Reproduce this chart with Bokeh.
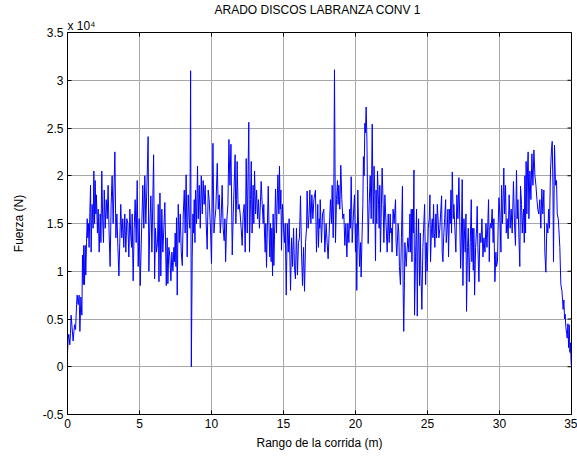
import math
from bokeh.plotting import figure
from bokeh.models import Range1d, FixedTicker, Title
from bokeh.embed import file_html
from bokeh.resources import INLINE

title = "ARADO DISCOS LABRANZA  CONV 1"
scale_note = "x 10\u2074"
x_label = "Rango de la corrida (m)"
y_label = "Fuerza (N)"
x_ticks = [0, 5, 10, 15, 20, 25, 30, 35]
y_ticks = [-0.5, 0, 0.5, 1, 1.5, 2, 2.5, 3, 3.5]
y_tick_labels = ["-0.5", "0", "0.5", "1", "1.5", "2", "2.5", "3", "3.5"]

# distance along the run (m)
rango = [
    0.0, 0.05, 0.09, 0.16, 0.21, 0.25, 0.32, 0.39, 0.49, 0.56, 0.63, 0.67, 0.74, 0.81, 0.86, 0.93,
    1.0, 1.04, 1.09, 1.13, 1.18, 1.23, 1.27, 1.32, 1.37, 1.41, 1.46, 1.5, 1.55, 1.6, 1.64, 1.71,
    1.78, 1.83, 1.88, 1.92, 1.97, 2.01, 2.08, 2.13, 2.2, 2.27, 2.32, 2.38, 2.45, 2.5, 2.55, 2.62,
    2.69, 2.76, 2.82, 2.89, 2.96, 3.03, 3.1, 3.17, 3.29, 3.36, 3.43, 3.5, 3.57, 3.63, 3.7, 3.77,
    3.84, 3.91, 3.98, 4.05, 4.12, 4.19, 4.26, 4.33, 4.4, 4.45, 4.49, 4.56, 4.63, 4.7, 4.77, 4.84,
    4.91, 4.98, 5.05, 5.14, 5.23, 5.3, 5.37, 5.44, 5.54, 5.6, 5.65, 5.72, 5.79, 5.86, 5.98, 6.05,
    6.11, 6.18, 6.25, 6.3, 6.35, 6.42, 6.48, 6.55, 6.62, 6.69, 6.76, 6.86, 6.92, 6.97, 7.04, 7.11,
    7.18, 7.25, 7.32, 7.39, 7.43, 7.48, 7.53, 7.57, 7.62, 7.69, 7.76, 7.83, 7.9, 7.97, 8.04, 8.11,
    8.17, 8.24, 8.31, 8.38, 8.45, 8.5, 8.55, 8.6, 8.66, 8.71, 8.75, 8.8, 8.85, 8.89, 8.96, 9.03,
    9.08, 9.15, 9.22, 9.29, 9.36, 9.42, 9.49, 9.56, 9.63, 9.7, 9.77, 9.84, 9.93, 10.0, 10.1, 10.17,
    10.24, 10.3, 10.4, 10.47, 10.54, 10.61, 10.67, 10.74, 10.81, 10.88, 10.93, 10.98, 11.05, 11.14, 11.21, 11.28,
    11.35, 11.44, 11.51, 11.64, 11.69, 11.74, 11.78, 11.85, 11.92, 11.99, 12.06, 12.13, 12.2, 12.27, 12.34, 12.41,
    12.48, 12.59, 12.64, 12.71, 12.76, 12.82, 12.89, 12.94, 12.99, 13.06, 13.13, 13.2, 13.26, 13.33, 13.45, 13.52,
    13.59, 13.63, 13.68, 13.73, 13.77, 13.82, 13.87, 13.94, 14.01, 14.05, 14.1, 14.14, 14.19, 14.24, 14.28, 14.33,
    14.45, 14.51, 14.61, 14.68, 14.72, 14.77, 14.82, 14.86, 14.93, 15.0, 15.07, 15.12, 15.19, 15.26, 15.33, 15.39,
    15.49, 15.56, 15.63, 15.7, 15.76, 15.83, 15.9, 15.97, 16.04, 16.11, 16.18, 16.25, 16.32, 16.39, 16.46, 16.53,
    16.6, 16.64, 16.71, 16.78, 16.83, 16.9, 16.97, 17.04, 17.11, 17.22, 17.29, 17.38, 17.43, 17.48, 17.52, 17.55,
    17.64, 17.71, 17.8, 17.87, 17.96, 18.03, 18.1, 18.17, 18.26, 18.33, 18.38, 18.45, 18.49, 18.54, 18.61, 18.68,
    18.75, 18.79, 18.84, 18.91, 18.98, 19.05, 19.12, 19.19, 19.26, 19.33, 19.4, 19.47, 19.54, 19.6, 19.65, 19.7,
    19.77, 19.86, 19.93, 20.0, 20.04, 20.09, 20.16, 20.23, 20.28, 20.35, 20.39, 20.46, 20.51, 20.55, 20.6, 20.65,
    20.69, 20.74, 20.79, 20.83, 20.88, 20.95, 21.02, 21.09, 21.16, 21.23, 21.29, 21.34, 21.39, 21.43, 21.48, 21.53,
    21.6, 21.64, 21.69, 21.73, 21.78, 21.85, 21.92, 21.97, 22.04, 22.12, 22.15, 22.2, 22.27, 22.34, 22.41, 22.45,
    22.5, 22.54, 22.61, 22.68, 22.78, 22.82, 22.87, 22.96, 23.01, 23.05, 23.12, 23.19, 23.26, 23.31, 23.35, 23.4,
    23.43, 23.48, 23.52, 23.57, 23.64, 23.71, 23.78, 23.82, 23.87, 23.92, 23.96, 24.01, 24.06, 24.1, 24.17, 24.24,
    24.29, 24.33, 24.38, 24.45, 24.5, 24.54, 24.61, 24.68, 24.73, 24.8, 24.87, 24.91, 24.98, 25.05, 25.12, 25.17,
    25.21, 25.28, 25.33, 25.38, 25.42, 25.47, 25.51, 25.58, 25.63, 25.68, 25.75, 25.79, 25.86, 25.91, 25.98, 26.02,
    26.07, 26.12, 26.19, 26.26, 26.3, 26.37, 26.42, 26.46, 26.53, 26.58, 26.63, 26.67, 26.72, 26.79, 26.83, 26.9,
    26.97, 27.04, 27.11, 27.18, 27.25, 27.3, 27.34, 27.41, 27.46, 27.53, 27.57, 27.62, 27.67, 27.71, 27.78, 27.83,
    27.9, 27.97, 28.04, 28.08, 28.13, 28.18, 28.22, 28.27, 28.34, 28.41, 28.45, 28.5, 28.57, 28.64, 28.71, 28.78,
    28.85, 28.92, 28.99, 29.06, 29.13, 29.2, 29.24, 29.29, 29.33, 29.38, 29.42, 29.49, 29.56, 29.61, 29.68, 29.75,
    29.79, 29.86, 29.91, 29.96, 30.03, 30.1, 30.14, 30.21, 30.3, 30.35, 30.42, 30.47, 30.53, 30.6, 30.67, 30.74,
    30.81, 30.88, 30.97, 31.04, 31.11, 31.18, 31.23, 31.28, 31.35, 31.41, 31.46, 31.53, 31.58, 31.62, 31.67, 31.72,
    31.76, 31.81, 31.85, 31.9, 31.95, 31.99, 32.04, 32.11, 32.18, 32.25, 32.32, 32.39, 32.46, 32.53, 32.6, 32.66,
    32.73, 32.8, 32.87, 32.94, 33.01, 33.08, 33.15, 33.22, 33.29, 33.36, 33.41, 33.47, 33.54, 33.61, 33.66, 33.71,
    33.75, 33.82, 33.89, 33.96, 34.01, 34.08, 34.12, 34.19, 34.26, 34.33, 34.38, 34.42, 34.47, 34.52, 34.56, 34.61,
    34.66, 34.7, 34.75, 34.8, 34.84, 34.89, 34.93, 34.98,
]

# force, in units of 1e4 N
fuerza = [
    0.15, 0.3, 0.34, 0.23, 0.35, 0.54, 0.41, 0.27, 0.44, 0.39, 0.65, 0.75, 0.65, 0.75, 0.37, 0.73,
    0.54, 1.17, 0.86, 1.27, 0.86, 1.27, 0.96, 1.3, 1.55, 1.35, 1.5, 1.25, 1.6, 1.9, 1.2, 1.7,
    1.45, 2.05, 1.5, 1.95, 1.6, 1.8, 1.4, 1.65, 1.2, 1.6, 1.3, 2.05, 1.5, 1.3, 1.85, 1.45,
    1.75, 1.55, 1.9, 1.4, 1.05, 1.7, 2.0, 1.5, 2.25, 1.35, 1.6, 1.25, 0.95, 1.3, 1.7, 1.35,
    1.55, 1.25, 1.6, 1.2, 1.55, 1.5, 1.15, 1.65, 1.35, 1.25, 1.6, 0.9, 1.45, 1.75, 1.3, 1.95,
    1.05, 1.55, 0.85, 1.4, 1.9, 1.45, 2.0, 1.5, 2.03, 2.41, 1.0, 1.5, 1.79, 1.2, 2.22, 0.92,
    1.45, 1.2, 1.3, 1.7, 0.89, 1.82, 0.95, 1.65, 1.2, 1.45, 1.72, 0.85, 1.35, 0.87, 1.25, 1.15,
    0.9, 1.2, 1.0, 1.25, 1.1, 1.4, 1.05, 1.56, 0.75, 1.7, 1.3, 1.6, 1.2, 1.06, 1.6, 1.85,
    1.4, 2.01, 1.15, 1.8, 1.55, 1.45, 3.1, 0.0, 1.15, 1.6, 1.4, 1.75, 1.3, 1.85, 1.5, 2.1,
    1.55, 1.9, 1.45, 2.0, 1.6, 1.95, 1.7, 1.9, 1.5, 1.23, 1.85, 1.75, 1.45, 1.08, 2.34, 1.4,
    1.55, 1.65, 2.13, 1.65, 1.8, 1.4, 1.55, 1.9, 1.45, 1.32, 1.55, 1.1, 1.5, 1.7, 2.38, 1.9,
    2.33, 1.17, 1.6, 2.22, 1.5, 1.75, 2.15, 1.65, 1.7, 1.6, 1.45, 1.27, 1.6, 1.7, 1.2, 2.18,
    1.4, 2.56, 1.2, 1.75, 2.15, 1.4, 1.9, 1.5, 2.05, 1.6, 1.85, 1.55, 1.75, 1.45, 1.94, 1.7,
    1.5, 1.7, 1.4, 1.2, 1.5, 1.04, 1.4, 1.89, 1.35, 1.15, 1.5, 1.1, 1.45, 0.95, 1.6, 1.06,
    1.86, 1.4, 2.01, 1.6, 2.1, 1.65, 1.85, 1.22, 1.7, 1.45, 1.3, 1.5, 0.75, 1.5, 1.2, 1.55,
    0.8, 1.35, 1.05, 1.45, 1.05, 0.92, 1.45, 0.96, 1.3, 1.35, 1.79, 1.2, 0.85, 1.25, 0.79, 1.3,
    1.45, 1.84, 1.45, 1.6, 1.85, 1.5, 1.8, 1.55, 1.75, 1.85, 1.2, 1.7, 1.25, 1.55, 1.45, 1.75,
    1.3, 1.6, 1.65, 1.2, 1.5, 1.3, 1.13, 1.4, 1.75, 1.5, 1.9, 1.35, 1.7, 3.11, 1.3, 1.75,
    1.95, 1.7, 1.9, 1.65, 2.11, 1.75, 1.55, 1.6, 1.27, 1.5, 1.15, 1.5, 1.3, 1.65, 1.45, 1.99,
    1.3, 1.6, 1.8, 1.2, 1.5, 0.8, 1.85, 1.35, 1.05, 1.3, 0.94, 1.4, 1.7, 2.2, 2.0, 2.55,
    2.45, 2.72, 2.4, 1.9, 1.29, 1.7, 2.0, 1.55, 2.54, 1.5, 2.1, 1.8, 1.11, 1.85, 1.5, 2.05,
    1.7, 1.45, 1.9, 1.2, 1.55, 2.08, 1.7, 1.3, 1.8, 1.5, 1.4, 1.2, 1.6, 1.3, 1.6, 1.4,
    1.45, 1.2, 1.65, 1.5, 1.75, 1.3, 1.16, 1.5, 1.4, 1.05, 0.86, 1.35, 1.89, 0.79, 0.37, 0.9,
    1.3, 1.15, 1.05, 1.2, 1.35, 1.2, 1.6, 1.2, 1.65, 1.1, 1.65, 1.4, 2.06, 0.54, 1.15, 1.65,
    0.53, 1.2, 1.55, 0.85, 1.4, 1.0, 0.6, 1.25, 1.45, 1.7, 0.86, 1.3, 1.0, 1.45, 1.55, 1.8,
    1.1, 1.45, 1.55, 1.35, 1.7, 1.4, 1.25, 1.6, 1.35, 1.7, 1.5, 1.35, 1.45, 1.6, 1.79, 1.2,
    1.1, 1.35, 1.55, 1.75, 1.3, 1.45, 1.65, 1.15, 1.65, 1.5, 1.85, 1.4, 2.04, 1.55, 1.7, 1.45,
    1.2, 1.8, 1.55, 1.98, 1.45, 1.03, 1.25, 1.96, 0.85, 1.55, 1.4, 1.2, 1.6, 0.58, 1.25, 1.45,
    0.89, 1.3, 1.75, 1.1, 1.45, 1.01, 1.45, 0.75, 1.25, 1.45, 1.68, 1.25, 0.89, 1.4, 1.3, 1.55,
    1.15, 1.35, 1.2, 1.5, 1.25, 1.55, 1.75, 1.1, 1.45, 1.5, 1.45, 1.65, 1.3, 1.55, 0.89, 1.2,
    1.05, 1.1, 1.5, 1.77, 1.6, 1.2, 1.9, 1.5, 2.08, 1.6, 1.9, 1.4, 1.55, 1.34, 1.8, 1.45,
    1.65, 1.4, 1.94, 1.5, 1.27, 2.06, 1.55, 1.75, 1.35, 1.05, 1.89, 1.7, 1.4, 1.55, 1.65, 1.3,
    2.0, 1.4, 2.15, 1.6, 2.1, 2.25, 1.55, 2.05, 1.75, 2.23, 1.9, 2.27, 2.0, 1.9, 1.75, 1.65,
    1.6, 1.75, 1.45, 1.86, 1.6, 1.85, 1.2, 0.99, 1.5, 1.4, 1.65, 1.45, 2.05, 2.27, 2.36, 1.9,
    1.1, 2.32, 1.9, 1.95, 1.6, 1.55, 1.45, 1.25, 0.86, 0.8, 0.7, 0.6, 0.7, 0.5, 0.55, 0.41,
    0.35, 0.3, 0.45, 0.2, 0.44, 0.15, 0.25, 0.02,
]

FONT = "Liberation Sans"
X_MIN, X_MAX = 0, 35
Y_MIN, Y_MAX = -0.5, 3.5

p = figure(width=577, height=457, output_backend="svg", toolbar_location=None,
           x_range=Range1d(X_MIN, X_MAX), y_range=Range1d(Y_MIN, Y_MAX),
           min_border_left=67, min_border_right=6, min_border_top=30, min_border_bottom=43,
           background_fill_color="white", border_fill_color="white")

p.line(rango, fuerza, line_color="#0000ff", line_width=1)

# inward ticks on the top and right edges (outer half is clipped by the frame)
p.scatter(x_ticks, [Y_MAX] * len(x_ticks), marker="dash", angle=math.pi / 2, size=8,
          line_color="black", line_width=1)
p.scatter([X_MAX] * len(y_ticks), y_ticks, marker="dash", size=8,
          line_color="black", line_width=1)

p.title.text = title
p.title.align = "center"
p.title.text_font = FONT
p.title.text_font_size = "12px"
p.title.text_font_style = "normal"
p.title.text_color = "black"
p.title.standoff = 0

note = Title(text=scale_note, align="left", text_font=FONT, text_font_size="12px",
             text_font_style="normal", text_color="black", standoff=0)
p.add_layout(note, "above")

p.outline_line_color = "black"
p.outline_line_width = 1

for ax in (p.xaxis[0], p.yaxis[0]):
    ax.major_tick_in = 4
    ax.major_tick_out = 0
    ax.minor_tick_in = 0
    ax.minor_tick_out = 0
    ax.axis_line_color = "black"
    ax.major_tick_line_color = "black"
    ax.major_label_text_font = FONT
    ax.major_label_text_font_size = "12px"
    ax.major_label_text_color = "black"
    ax.axis_label_text_font = FONT
    ax.axis_label_text_font_size = "12px"
    ax.axis_label_text_font_style = "normal"
    ax.axis_label_text_color = "black"

p.xaxis[0].ticker = FixedTicker(ticks=x_ticks)
p.yaxis[0].ticker = FixedTicker(ticks=y_ticks)
p.xaxis[0].axis_label = x_label
p.yaxis[0].axis_label = y_label
p.yaxis[0].major_label_overrides = {t: s for t, s in zip(y_ticks, y_tick_labels)}
p.xaxis[0].major_label_standoff = 4
p.xaxis[0].axis_label_standoff = 5
p.yaxis[0].major_label_standoff = 4
p.yaxis[0].axis_label_standoff = 14

p.xgrid.ticker = FixedTicker(ticks=x_ticks)
p.ygrid.ticker = FixedTicker(ticks=y_ticks)
p.grid.grid_line_color = "#a8a8a8"
p.grid.grid_line_width = 1

open("out.html", "w").write(file_html(p, INLINE))
